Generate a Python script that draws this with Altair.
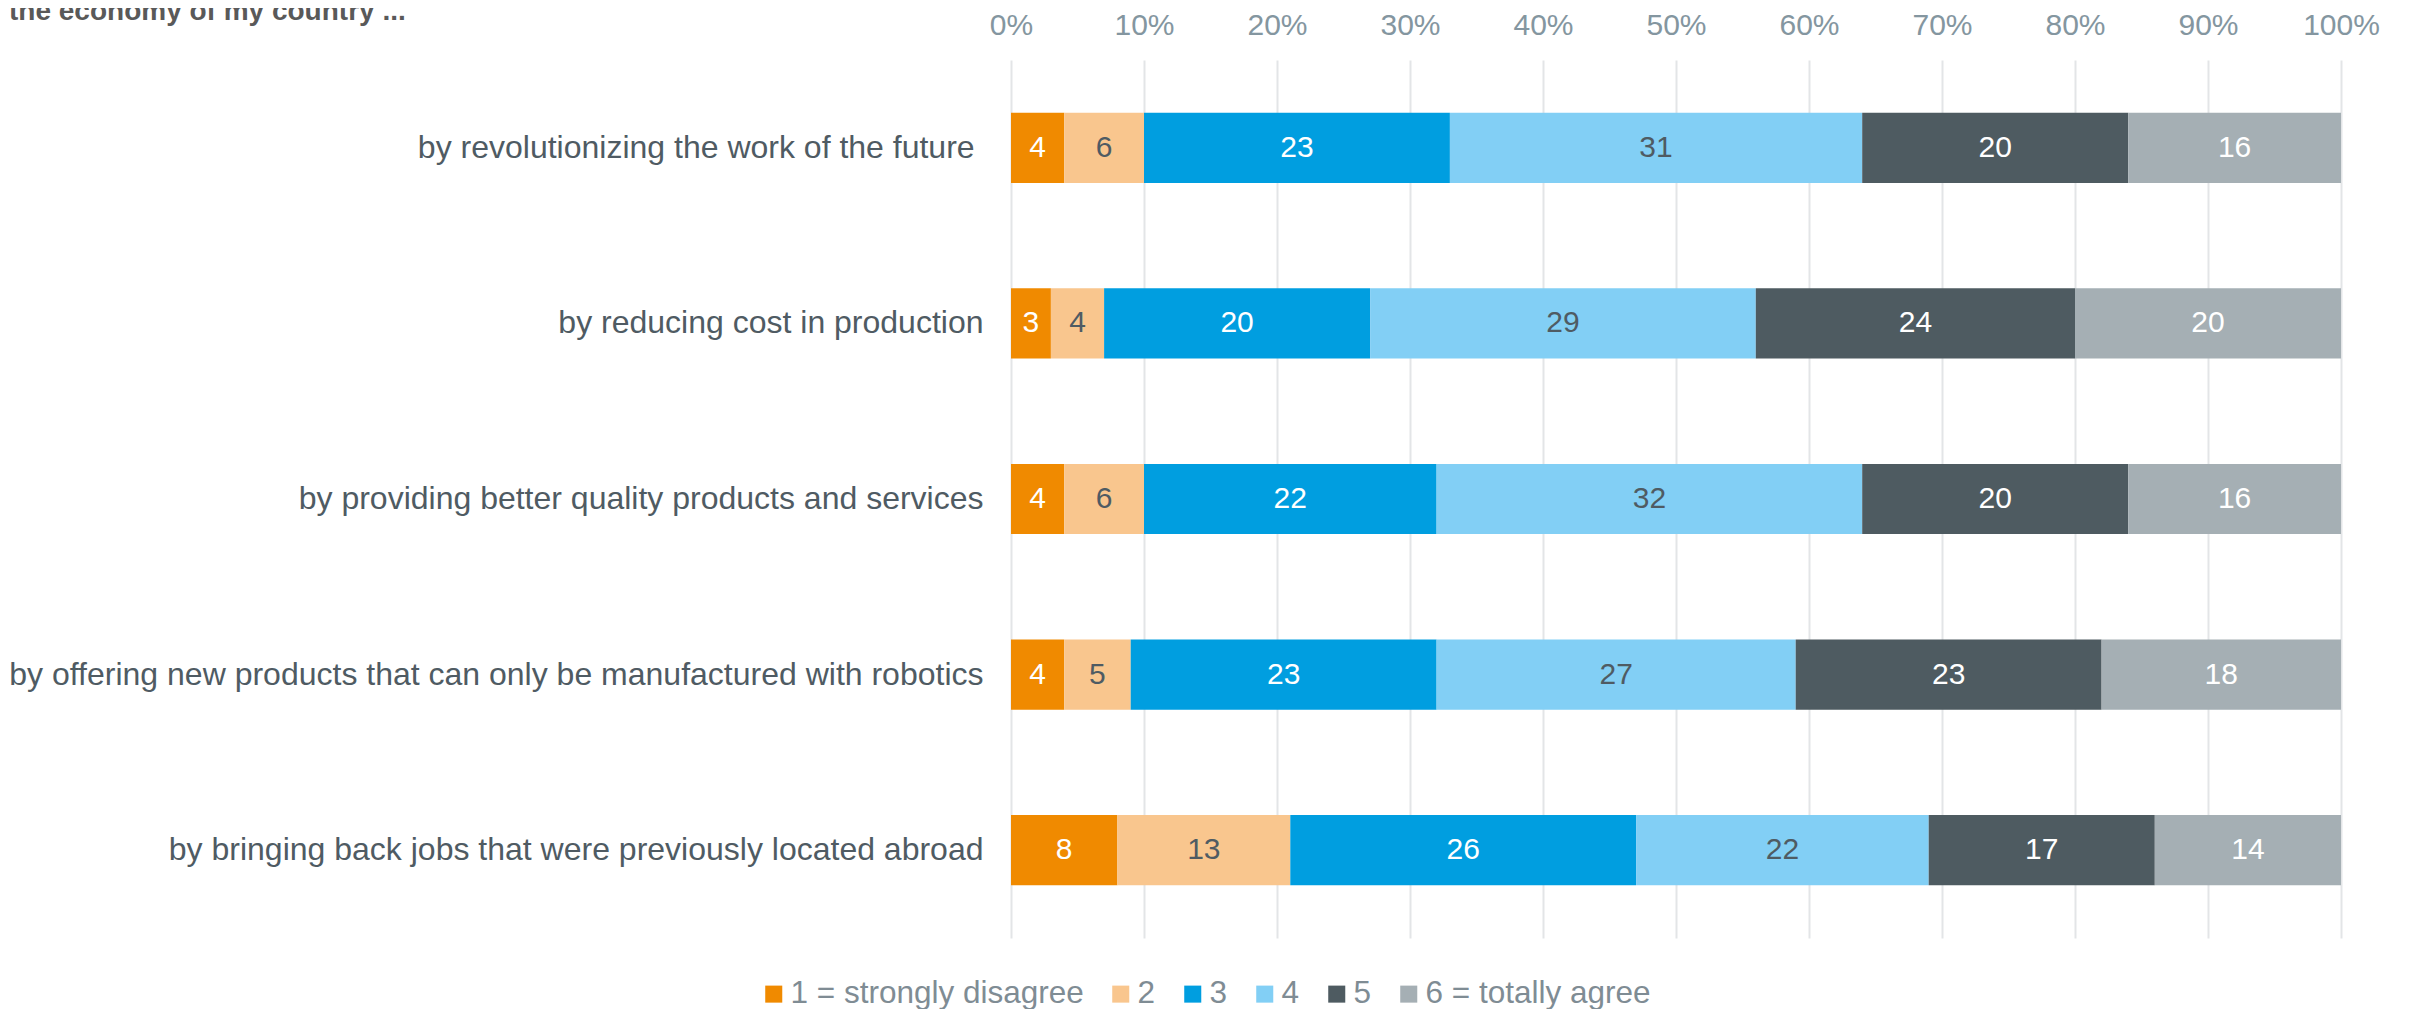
import altair as alt
import pandas as pd

items = [
    "by revolutionizing the work of the future\u00a0\u200b",
    "by reducing cost in production",
    "by providing better quality products and services",
    "by offering new products that can only be manufactured with robotics",
    "by bringing back jobs that were previously located abroad",
]
levels = ["1 = strongly disagree", "2", "3", "4", "5", "6 = totally agree"]
v1 = [4, 3, 4, 4, 8]
v2 = [6, 4, 6, 5, 13]
v3 = [23, 20, 22, 23, 26]
v4 = [31, 29, 32, 27, 22]
v5 = [20, 24, 20, 23, 17]
v6 = [16, 20, 16, 18, 14]
colors = ["#F08A00", "#F9C68E", "#009EE0", "#82CFF5", "#4E5B61", "#A5AFB4"]
text_colors = ["#FFFFFF", "#4F5B63", "#FFFFFF", "#4F5B63", "#FFFFFF", "#FFFFFF"]
title_text = "the economy of my country ..."

series = [v1, v2, v3, v4, v5, v6]
rows = []
for li, (lev, vals) in enumerate(zip(levels, series)):
    for it, v in zip(items, vals):
        rows.append({"item": it, "level": lev, "order": li, "value": v, "tcolor": text_colors[li]})
df = pd.DataFrame(rows)

FONT = "Liberation Sans"

y_enc = alt.Y("item:N", sort=items, title=None,
              scale=alt.Scale(paddingInner=0.6, paddingOuter=0.3),
              axis=alt.Axis(domain=False, ticks=False, labelFontSize=32, labelColor="#4F5B63",
                            labelFont=FONT, labelPadding=28, labelLimit=1200, grid=False))

base = alt.Chart(df)

bars = base.mark_bar().encode(
    x=alt.X("value:Q", stack="zero",
            scale=alt.Scale(domain=[0, 100], nice=False),
            axis=alt.Axis(orient="top", values=list(range(0, 101, 10)), labelExpr="datum.value + '%'",
                          domain=False, ticks=False, labelFontSize=30, labelColor="#8496A0",
                          labelFont=FONT, labelPadding=20, labelFlush=False, labelOverlap=False,
                          grid=True, gridColor="#E3E5E7", gridWidth=2),
            title=None),
    y=y_enc,
    color=alt.Color("level:N", sort=levels,
                    scale=alt.Scale(domain=levels, range=colors),
                    legend=alt.Legend(title=None, orient="none", direction="horizontal",
                                      legendX=-253, legendY=918, symbolType="square",
                                      symbolSize=290, symbolStrokeWidth=0, labelFontSize=31.5,
                                      labelColor="#7F8C94", labelFont=FONT, columnPadding=21,
                                      labelOffset=1, columns=6, labelLimit=600)),
    order=alt.Order("order:Q"),
)

labels = base.transform_stack(
    stack="value", as_=["x0", "x1"], groupby=["item"], sort=[alt.SortField("order")]
).transform_calculate(mid="(datum.x0 + datum.x1) / 2").mark_text(
    fontSize=30, font=FONT, baseline="middle", align="center"
).encode(
    x=alt.X("mid:Q"),
    y=alt.Y("item:N", sort=items),
    text=alt.Text("value:Q"),
    color=alt.Color("tcolor:N", scale=None, legend=None),
)

title = alt.Chart(pd.DataFrame({"t": [title_text]})).mark_text(
    fontSize=28, font=FONT, fontWeight="bold", color="#595959", align="left", baseline="alphabetic"
).encode(text="t:N", x=alt.value(-1002), y=alt.value(-40))

chart = alt.layer(bars, labels, title).properties(
    width=1330, height=878,
    padding={"left": 1003, "top": 52, "right": 47, "bottom": 71},
    autosize=alt.AutoSizeParams(type="none"),
).configure_view(stroke=None)

chart.save("out.html", embed_options={"renderer": "svg", "actions": False})
